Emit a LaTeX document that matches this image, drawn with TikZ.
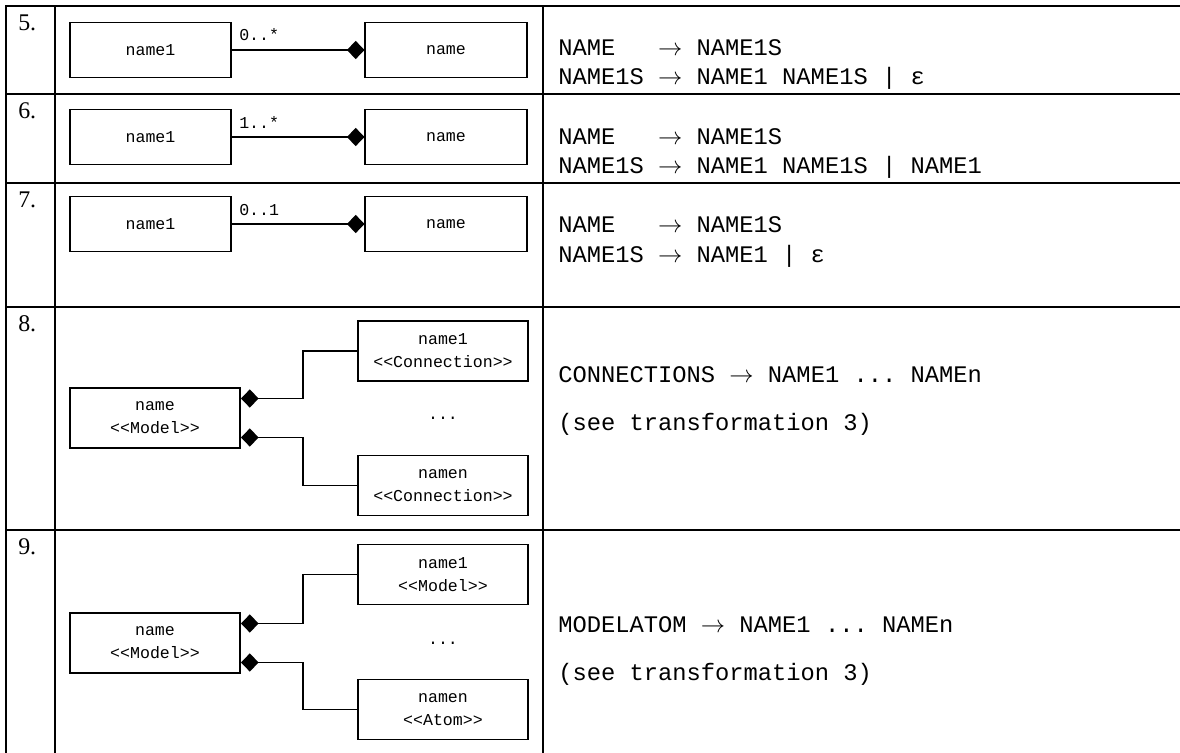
\documentclass[tikz,border=0pt]{standalone}
\usepackage{fontspec}
\setmainfont{Liberation Serif}
\setmonofont{Liberation Mono}
\usepackage{xcolor}
\usepackage{tikz}
\usetikzlibrary{arrows.meta,calc}
\tikzset{%
  tabline/.style={line width=2.1pt},%
  box/.style={draw, line width=1.4pt, minimum width=4.025cm, minimum height=1.375cm, inner sep=0pt, align=center, font=\fontsize{11.8}{16.4}\ttfamily},%
  wide/.style={box, minimum width=4.25cm, minimum height=1.5cm},%
  mult/.style={anchor=base west, inner sep=0pt, font=\fontsize{11.8}{14}\ttfamily},%
  num/.style={anchor=base west, inner sep=0pt, font=\fontsize{17}{20}\selectfont},%
  rule/.style={anchor=base west, inner sep=0pt, font=\fontsize{16.9}{20}\ttfamily},%
  comp/.style={line width=1.4pt, {Diamond[length=12.5pt, width=13pt]}-},%
}

\begin{document}
\begin{tikzpicture}[x=0.025cm, y=-0.025cm]%
\useasboundingbox (0,0) rectangle (1180,753);%
% table
\draw[tabline] (1180,6) -- (6,6) -- (6,753);%
\draw[tabline] (55,6) -- (55,753);%
\draw[tabline] (543,6) -- (543,753);%
\draw[tabline] (6,94) -- (1180,94);%
\draw[tabline] (6,183) -- (1180,183);%
\draw[tabline] (6,307) -- (1180,307);%
\draw[tabline] (6,530) -- (1180,530);%
% row numbers
\node[num] (n5) at (18, 31) {5.};%
\node[num] (n6) at (18, 119) {6.};%
\node[num] (n7) at (18, 208) {7.};%
\node[num] (n8) at (18, 332) {8.};%
\node[num] (n9) at (18, 555) {9.};%
% 5.
\node[box] (a5) at (150.5, 50) {name1};%
\node[box] (b5) at (446, 50) {name};%
\draw[comp] (b5) -- (a5);%
\node[mult] (m5) at (239, 41) {0..*};%
% 6.
\node[box] (a6) at (150.5, 137) {name1};%
\node[box] (b6) at (446, 137) {name};%
\draw[comp] (b6) -- (a6);%
\node[mult] (m6) at (239, 129) {1..*};%
% 7.
\node[box] (a7) at (150.5, 224) {name1};%
\node[box] (b7) at (446, 224) {name};%
\draw[comp] (b7) -- (a7);%
\node[mult] (m7) at (239, 216) {0..1};%
% 8.
\node[wide] (p8) at (155, 418) {name\\<<Model>>};%
\node[wide] (a8) at (443, 351) {name1\\<<Connection>>};%
\node[wide] (z8) at (443, 485.5) {namen\\<<Connection>>};%
\node[mult, anchor=base] (d8) at (443, 420) {...};%
\draw[comp] ($(p8.east)+(0,-19.5)$) -- ++(62,0) |- (a8.west);%
\draw[comp] ($(p8.east)+(0,19.5)$) -- ++(62,0) |- (z8.west);%
% 9.
\node[wide] (p9) at (155, 643) {name\\<<Model>>};%
\node[wide] (a9) at (443, 574.5) {name1\\<<Model>>};%
\node[wide] (z9) at (443, 709.5) {namen\\<<Atom>>};%
\node[mult, anchor=base] (d9) at (443, 645) {...};%
\draw[comp] ($(p9.east)+(0,-19.5)$) -- ++(62,0) |- (a9.west);%
\draw[comp] ($(p9.east)+(0,19.5)$) -- ++(62,0) |- (z9.west);%
% rules
\node[rule] (t5a) at (558, 56) {NAME\ \ \ $\rightarrow$ NAME1S};%
\node[rule] (t5b) at (558, 85) {NAME1S $\rightarrow$ NAME1 NAME1S | ε};%
\node[rule] (t6a) at (558, 145) {NAME\ \ \ $\rightarrow$ NAME1S};%
\node[rule] (t6b) at (558, 174) {NAME1S $\rightarrow$ NAME1 NAME1S | NAME1};%
\node[rule] (t7a) at (558, 233) {NAME\ \ \ $\rightarrow$ NAME1S};%
\node[rule] (t7b) at (558, 263) {NAME1S $\rightarrow$ NAME1 | ε};%
\node[rule] (t8a) at (558, 383) {CONNECTIONS $\rightarrow$ NAME1 ... NAMEn};%
\node[rule] (t8b) at (558, 431) {(see transformation 3)};%
\node[rule] (t9a) at (558, 633) {MODELATOM $\rightarrow$ NAME1 ... NAMEn};%
\node[rule] (t9b) at (558, 681) {(see transformation 3)};%
\end{tikzpicture}
\end{document}
